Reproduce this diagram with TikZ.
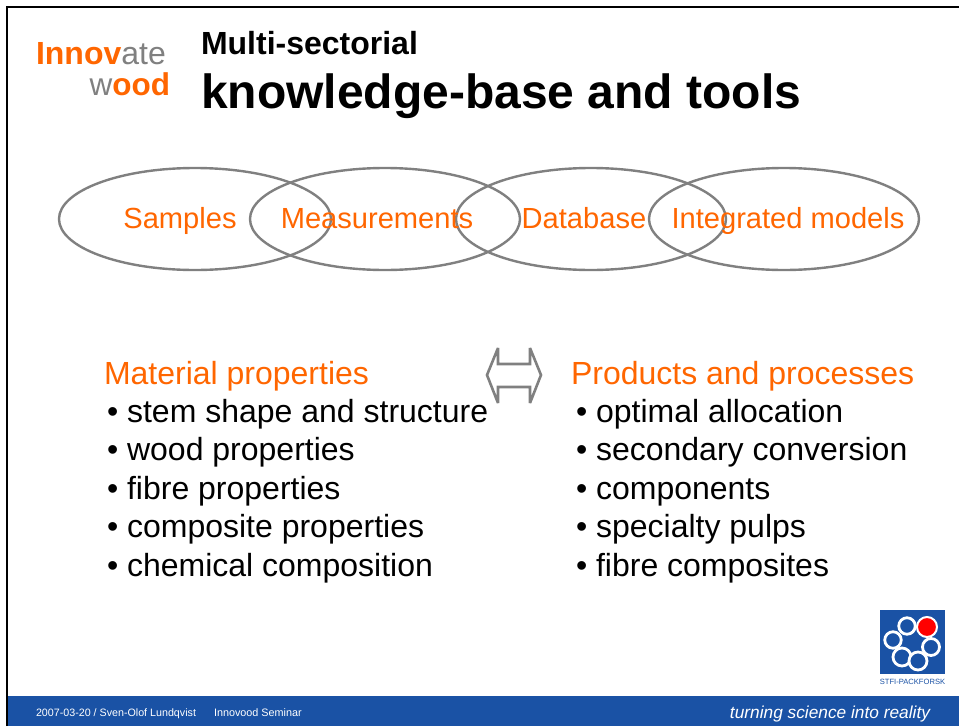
\documentclass[tikz,border=0pt]{standalone}
\usepackage{fontspec}
\setmainfont{Liberation Sans}
\usetikzlibrary{shapes.geometric}
\definecolor{orng}{HTML}{FF6600}
\definecolor{greyline}{HTML}{808080}
\definecolor{footblue}{HTML}{1A52A5}
\tikzset{
  x=1pt,y=-1pt,
  every node/.style={inner sep=0pt,outer sep=0pt},
  oval/.style={ellipse,draw=greyline,line width=2.4pt,minimum width=#1,minimum height=102},
  ovtext/.style={text=orng,font=\fontsize{29.1}{30}\selectfont,anchor=base},
  headtext/.style={text=orng,font=\fontsize{32}{32}\selectfont,anchor=base west},
  bul/.style={text=black,font=\fontsize{32}{32}\selectfont,anchor=base west},
  ring/.style={circle,draw=white,line width=2.8pt,fill=footblue,minimum size=#1},
}
\begin{document}
\begin{tikzpicture}
\useasboundingbox (0,0) rectangle (959,726);
\fill[white] (0,0) rectangle (959,726);
% frame
\fill[footblue] (7,696) rectangle (959,726);
\draw[black,line width=2.4pt] (7,726) -- (7,7) -- (959,7);
% logo text
\node[anchor=base west] (inno) at (36,64) {\fontsize{32}{32}\selectfont\bfseries\textcolor{orng}{Innov}\mdseries\textcolor{greyline}{ate}};
\node[anchor=base east] (wood) at (170,95) {\fontsize{31.5}{32}\selectfont\textcolor{greyline}{w}\bfseries\textcolor{orng}{ood}};
% title
\node[anchor=base west,font=\fontsize{32}{32}\selectfont\bfseries] (t1) at (201,54) {Multi-sectorial};
\node[anchor=base west,font=\fontsize{48}{48}\selectfont\bfseries] (t2) at (201,108) {knowledge-base and tools};
% ellipses
\node[oval=272] (e1) at (195,219) {};
\node[oval=270] (e2) at (385,219) {};
\node[oval=270] (e3) at (591,219) {};
\node[oval=270] (e4) at (784,219) {};
\node[ovtext] (l1) at (180,228) {Samples};
\node[ovtext] (l2) at (377,228) {Measurements};
\node[ovtext] (l3) at (584,228) {Database};
\node[ovtext] (l4) at (788,228) {Integrated models};
% double arrow
\draw[greyline,line width=2.6pt,line join=miter,miter limit=2,fill=white] (487,375) -- (498,348) -- (498,364) -- (530,364) -- (530,348) -- (541,375) -- (530,403) -- (530,387) -- (498,387) -- (498,403) -- cycle;
% left list
\node[headtext] (h1) at (104,384) {Material properties};
\node[bul] (a1) at (107,422) {• stem shape and structure};
\node[bul] (a2) at (107,460) {• wood properties};
\node[bul] (a3) at (107,499) {• fibre properties};
\node[bul] (a4) at (107,537) {• composite properties};
\node[bul] (a5) at (107,576) {• chemical composition};
% right list
\node[headtext] (h2) at (571,384) {Products and processes};
\node[bul] (b1) at (576,422) {• optimal allocation};
\node[bul] (b2) at (576,460) {• secondary conversion};
\node[bul] (b3) at (576,499) {• components};
\node[bul] (b4) at (576,537) {• specialty pulps};
\node[bul] (b5) at (576,576) {• fibre composites};
% STFI logo
\fill[footblue] (880,610) rectangle (945,674);
\node[ring=16.5] (r1) at (907,626) {};
\node[ring=16.5] (r2) at (893,640) {};
\node[ring=18] (r3) at (902,657) {};
\node[ring=18] (r4) at (918,661) {};
\node[ring=17] (r5) at (931,647) {};
\node[circle,fill=red,draw=white,line width=2pt,minimum size=20] (r6) at (927,627) {};
\node[anchor=base,text=footblue,font=\fontsize{7.6}{8}\selectfont] (st) at (912.5,684) {STFI-PACKFORSK};
% footer
\node[anchor=base west,text=white,font=\fontsize{10.7}{11}\selectfont] (f1) at (36,716) {2007-03-20 / Sven-Olof Lundqvist};
\node[anchor=base west,text=white,font=\fontsize{10.8}{11}\selectfont] (f2) at (214,716) {Innovood Seminar};
\node[anchor=base east,text=white,font=\fontsize{17.3}{18}\selectfont\itshape] (f3) at (930,718) {turning science into reality};
\end{tikzpicture}
\end{document}
